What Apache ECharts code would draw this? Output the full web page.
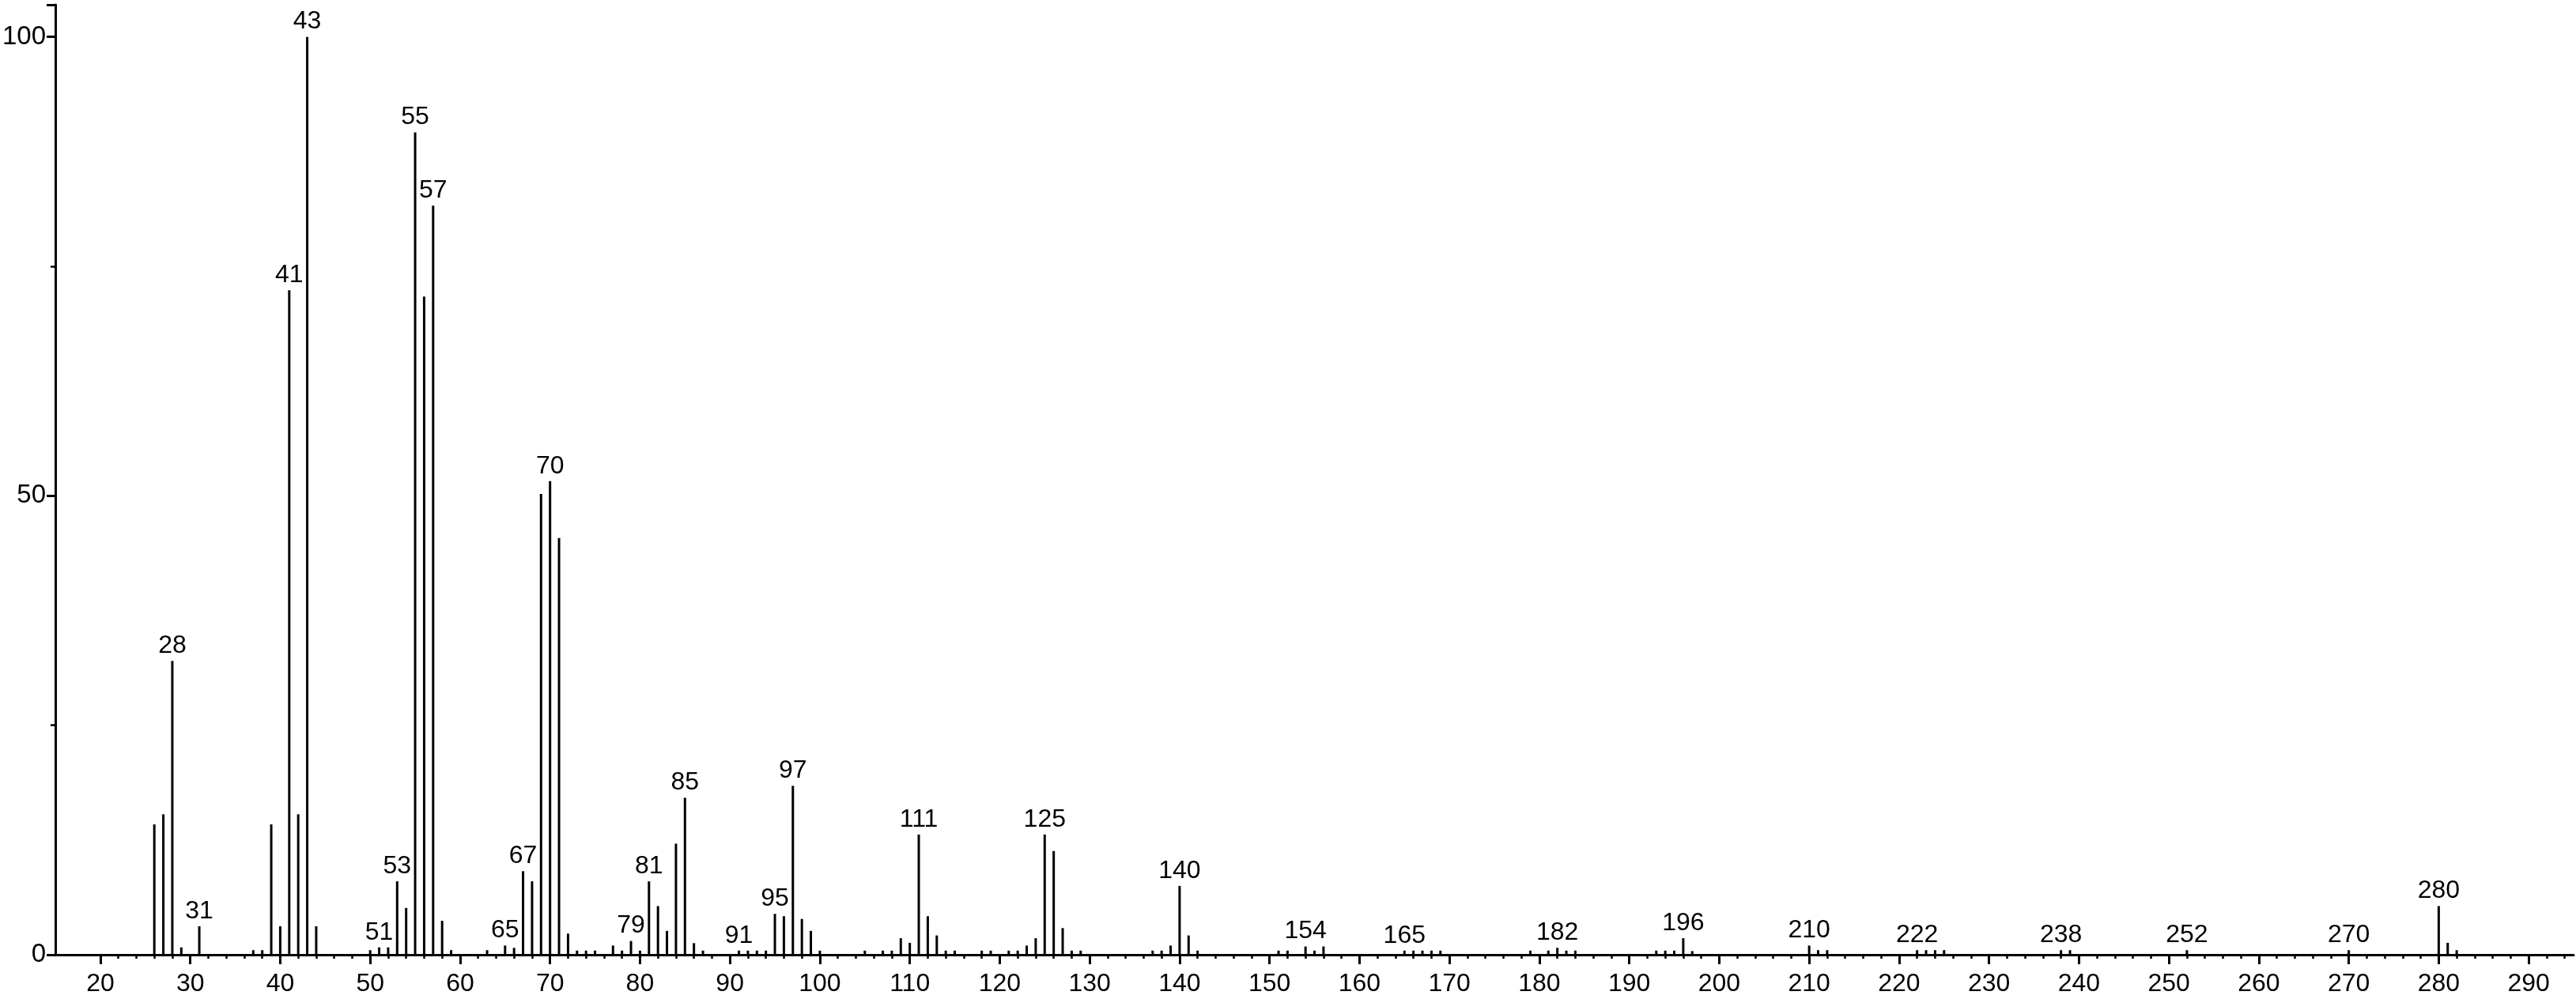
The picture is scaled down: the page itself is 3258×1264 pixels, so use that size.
<!DOCTYPE html>
<html>
<head>
<meta charset="utf-8">
<script src="https://cdn.jsdelivr.net/npm/echarts@6/dist/echarts.min.js"></script>
<style>
html,body{margin:0;padding:0;background:#fff;}
#chart{width:3258px;height:1264px;}
</style>
</head>
<body>
<div id="chart"></div>
<script>
// m/z values and relative intensities
var mz = [26,27,28,29,31,37,38,39,40,41,42,43,44,50,51,52,53,54,55,56,57,58,59,63,65,66,67,68,69,70,71,72,73,74,75,77,78,79,80,81,82,83,84,85,86,87,91,92,93,94,95,96,97,98,99,100,105,107,108,109,110,111,112,113,114,115,118,119,121,122,123,124,125,126,127,128,129,137,138,139,140,141,142,151,152,154,155,156,165,166,167,168,169,179,181,182,183,184,193,194,195,196,197,210,211,212,222,223,224,225,238,239,252,270,280,281,282];
var intensity = [14.2,15.3,32.0,0.8,3.1,0.5,0.5,14.2,3.1,72.4,15.3,100,3.1,0.5,0.8,0.8,8.0,5.1,89.6,71.7,81.6,3.7,0.5,0.5,1.0,0.75,9.1,8.0,50.2,51.6,45.4,2.3,0.45,0.45,0.45,1.0,0.45,1.5,0.45,8.0,5.3,2.6,12.1,17.1,1.26,0.45,0.45,0.45,0.45,0.45,4.45,4.2,18.4,3.9,2.6,0.45,0.45,0.45,0.45,1.8,1.3,13.1,4.2,2.1,0.45,0.45,0.45,0.45,0.45,0.45,1.0,1.8,13.1,11.3,2.9,0.45,0.45,0.45,0.45,1.0,7.5,2.1,0.45,0.45,0.45,0.9,0.45,0.9,0.45,0.45,0.45,0.45,0.45,0.45,0.45,0.75,0.45,0.45,0.45,0.45,0.45,1.8,0.4,1.0,0.5,0.5,0.5,0.5,0.5,0.5,0.5,0.5,0.5,0.5,5.3,1.3,0.5];
var labeledPeaks = [28,31,41,43,51,53,55,57,65,67,70,79,81,85,91,95,97,111,125,140,154,165,182,196,210,222,238,252,270,280];
var xMajorTicks = [20,30,40,50,60,70,80,90,100,110,120,130,140,150,160,170,180,190,200,210,220,230,240,250,260,270,280,290];
var xMinorTicks = [22,24,26,28,32,34,36,38,42,44,46,48,52,54,56,58,62,64,66,68,72,74,76,78,82,84,86,88,92,94,96,98,102,104,106,108,112,114,116,118,122,124,126,128,132,134,136,138,142,144,146,148,152,154,156,158,162,164,166,168,172,174,176,178,182,184,186,188,192,194,196,198,202,204,206,208,212,214,216,218,222,224,226,228,232,234,236,238,242,244,246,248,252,254,256,258,262,264,266,268,272,274,276,278,282,284,286,288,292,294];
var yTickLabels = [0,50,100];

var FONT = 'Liberation Sans, Arial, sans-serif';
var data = mz.map(function(m, i){
  var item = {value:[m, intensity[i]]};
  if (labeledPeaks.indexOf(m) >= 0) {
    item.label = {show:true};
  }
  return item;
});

var chart = echarts.init(document.getElementById('chart'), null, {renderer:'canvas'});
chart.setOption({
  animation:false,
  backgroundColor:'#ffffff',
  grid:{left:69, right:3, top:6, bottom:56, containLabel:false},
  xAxis:[{
    type:'value', min:15, max:295,
    axisLine:{show:true, onZero:false, lineStyle:{color:'#000', width:3}},
    axisTick:{show:true, length:12, customValues:xMajorTicks, lineStyle:{color:'#000', width:3}},
    axisLabel:{
      show:true, margin:21, color:'#000', fontSize:32, fontFamily:FONT,
      customValues:xMajorTicks
    },
    splitLine:{show:false}
  },{
    type:'value', min:15, max:295, position:'bottom',
    axisLine:{show:false, onZero:false},
    axisTick:{show:true, length:5, customValues:xMinorTicks, lineStyle:{color:'#000', width:2.5}},
    axisLabel:{show:false},
    splitLine:{show:false}
  }],
  yAxis:{
    type:'value', min:0, max:103.5, interval:50,
    axisLine:{show:true, lineStyle:{color:'#000', width:3}},
    axisTick:{show:true, length:11, lineStyle:{color:'#000', width:3}},
    minorTick:{show:true, splitNumber:2, length:6, lineStyle:{color:'#000', width:2.5}},
    axisLabel:{
      show:true, margin:12, color:'#000', fontSize:33, fontFamily:FONT,
      formatter:function(v){ return yTickLabels.indexOf(v) >= 0 ? String(v) : ''; }
    },
    splitLine:{show:false}
  },
  series:[{
    type:'bar',
    xAxisIndex:0,
    data:data,
    barWidth:3,
    itemStyle:{color:'#000'},
    label:{show:false, position:'top', distance:3, color:'#000', fontSize:32, fontFamily:FONT,
      formatter:function(p){ return String(p.value[0]); }},
    silent:true
  }]
});
</script>
</body>
</html>
